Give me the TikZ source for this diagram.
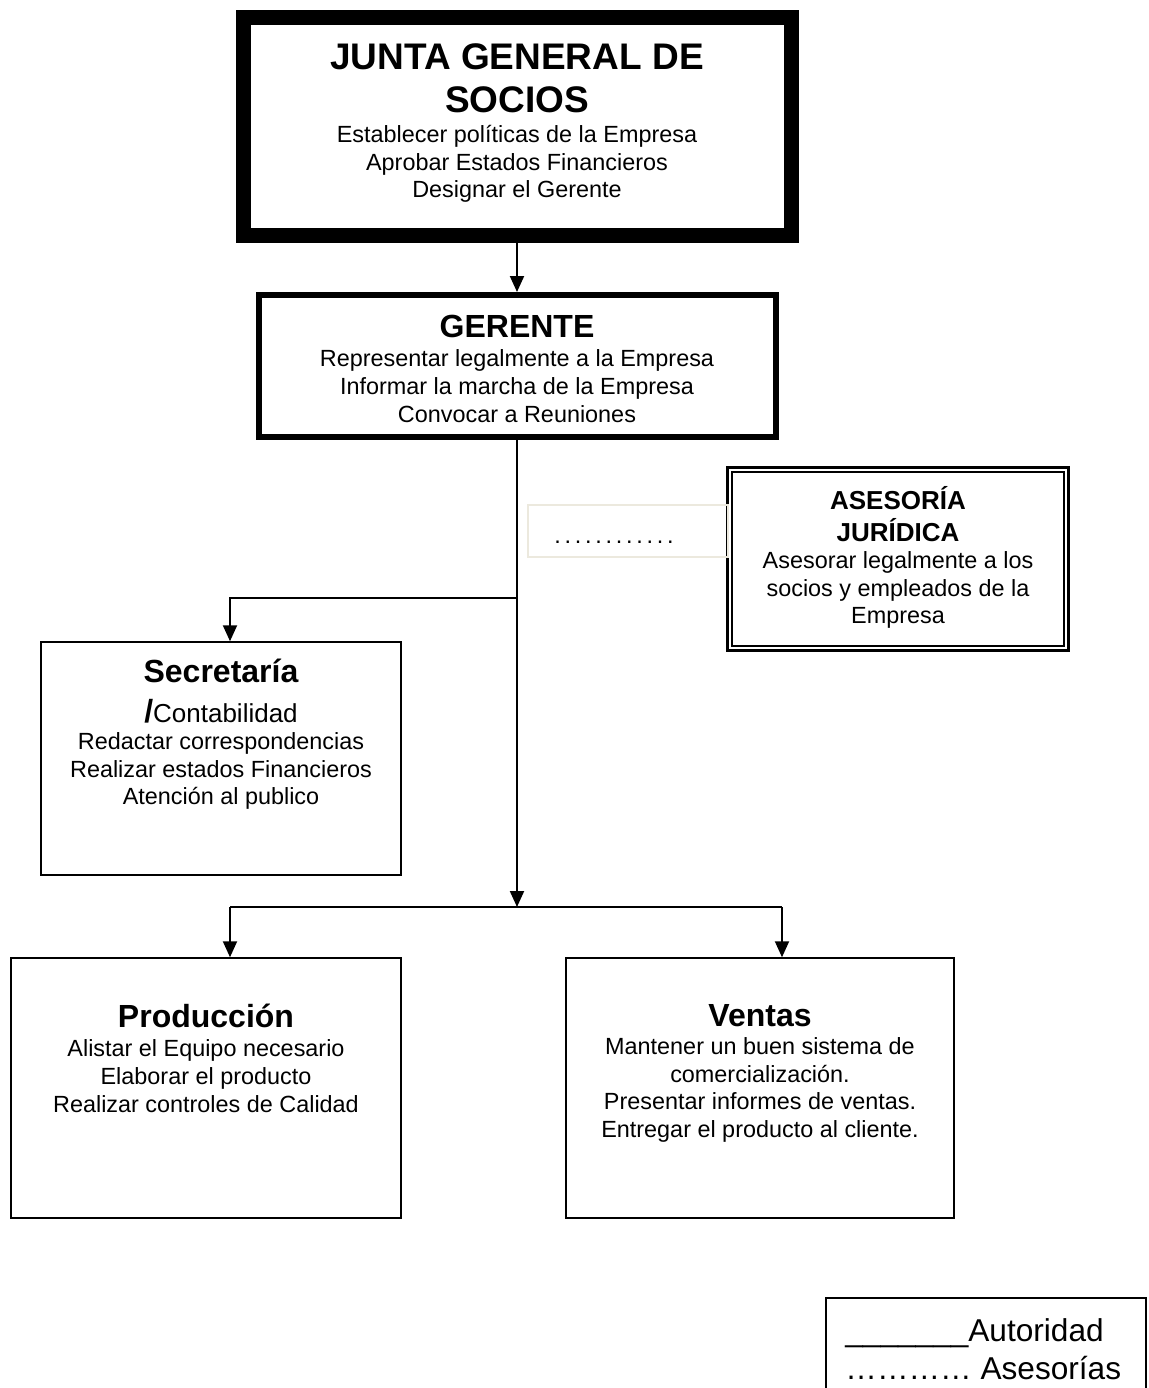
\documentclass[tikz,border=0pt]{standalone}
\usepackage{fontspec}
\setmainfont{Liberation Sans}
\usetikzlibrary{arrows.meta}
\definecolor{faint}{RGB}{236,233,222}
\tikzset{
  conn/.style={line width=1pt},
  arr/.style={line width=1pt,-{Triangle[length=8pt,width=7pt]}},
  thinbox/.style={draw,line width=0.75pt,rectangle,inner sep=0pt},
  bodytxt/.style={align=center,font=\fontsize{11.7}{13.9}\selectfont,inner sep=0pt},
  ttl/.style={align=center,font=\fontsize{16}{19}\selectfont\bfseries,inner sep=0pt}
}
\begin{document}
\begin{tikzpicture}[x=0.5pt,y=-0.5pt]
\useasboundingbox[fill=white] (0,0) rectangle (1149,1388);
% boxes
\node[draw,line width=7.5pt,minimum width=274pt,minimum height=109pt,inner sep=0pt] (junta) at (517,126.5) {};
\node[draw,line width=3pt,minimum width=258.5pt,minimum height=71pt,inner sep=0pt] (gerente) at (517,366) {};
\node[draw,line width=1.5pt,minimum width=170.5pt,minimum height=91.5pt,inner sep=0pt] (asesoria) at (898,559) {};
\draw[line width=0.8pt] ([shift={(6,6)}]asesoria.north west) rectangle ([shift={(-6,-6)}]asesoria.south east);
\node[draw=faint,line width=1pt,minimum width=100pt,minimum height=26pt,inner sep=0pt] (conbox) at (628,531) {};
\node[thinbox,minimum width=180pt,minimum height=116.5pt] (secretaria) at (221,758.5) {};
\node[thinbox,minimum width=195pt,minimum height=130pt] (produccion) at (206,1088) {};
\node[thinbox,minimum width=194pt,minimum height=130pt] (ventas) at (760,1088) {};
% texts
\node[align=center,inner sep=0pt,font=\fontsize{18.5}{21.5}\selectfont\bfseries] (juntat) at (517,78) {JUNTA GENERAL DE\\SOCIOS};
\node[bodytxt] (juntab) at (517,164) {Establecer políticas de la Empresa\\Aprobar Estados Financieros\\Designar el Gerente};
\node[ttl] (gerentet) at (517,326) {GERENTE};
\node[bodytxt] (gerenteb) at (517,386) {Representar legalmente a la Empresa\\Informar la marcha de la Empresa\\Convocar a Reuniones};
\node[align=center,inner sep=0pt,font=\fontsize{13}{16}\selectfont\bfseries] (asesoriat) at (898,514) {ASESORÍA\\JURÍDICA};
\node[bodytxt] (asesoriab) at (898,590) {Asesorar legalmente a los\\socios y empleados de la\\Empresa};
\node[inner sep=0pt,font=\fontsize{11.7}{13.9}\selectfont\addfontfeature{LetterSpace=16}] (dots) at (614,542) {............};
\node[ttl] (secretariat) at (221,671) {Secretaría};
\node[inner sep=0pt] (secretariac) at (221,711) {{\fontsize{16}{19}\selectfont\bfseries /}{\fontsize{13}{16}\selectfont Contabilidad}};
\node[bodytxt] (secretariab) at (221,771) {Redactar correspondencias\\Realizar estados Financieros\\Atención al publico};
\node[ttl] (produccciont) at (206,1016) {Producción};
\node[bodytxt] (produccionb) at (206,1076) {Alistar el Equipo necesario\\Elaborar el producto\\Realizar controles de Calidad};
\node[ttl] (ventast) at (760,1016) {Ventas};
\node[bodytxt] (ventasb) at (760,1090) {Mantener un buen sistema de\\comercialización.\\Presentar informes de ventas.\\Entregar el producto al cliente.};
% connectors
\coordinate (jsec) at (517,598);
\coordinate (jbot) at (517,907);
\coordinate (secturn) at (230,598);
\coordinate (lp) at (230,907);
\coordinate (rv) at (782,907);
\draw[arr] (junta.south) -- (gerente.north);
\draw[arr] (gerente.south) -- (jbot);
\draw[arr] (jsec) -- (secturn) -- (secturn |- secretaria.north);
\draw[conn] (lp) -- (rv);
\draw[arr] (lp) -- (lp |- produccion.north);
\draw[arr] (rv) -- (rv |- ventas.north);
% legend
\coordinate (lgbl) at (826,1388);
\coordinate (lgtl) at (826,1298);
\coordinate (lgtr) at (1146,1298);
\coordinate (lgbr) at (1146,1388);
\draw[line width=0.75pt] (lgbl) -- (lgtl) -- (lgtr) -- (lgbr);
\node[anchor=west,inner sep=0pt,font=\fontsize{15.8}{19}\selectfont] (leg1) at (845,1333) {\_\_\_\_\_\_\_Autoridad};
\node[anchor=west,inner sep=0pt,font=\fontsize{15.8}{19}\selectfont] (leg2) at (845,1368) {………… Asesorías};
\end{tikzpicture}
\end{document}
